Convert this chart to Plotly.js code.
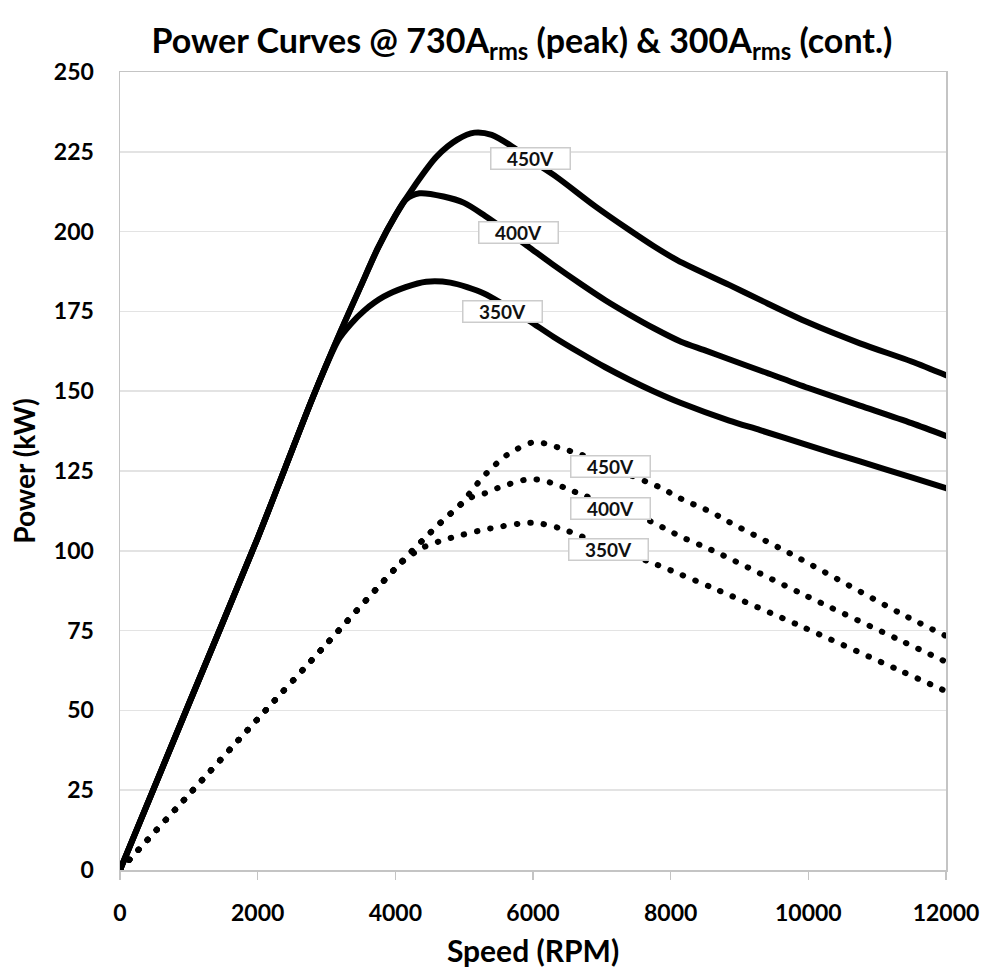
<!DOCTYPE html>
<html>
<head>
<meta charset="utf-8">
<script src="https://cdn.plot.ly/plotly-3.0.1.min.js"></script>
<style>
  html, body { margin: 0; padding: 0; background: #fff; }
  #chart { width: 1000px; height: 975px; }
  .scatterlayer .js-line { stroke-linecap: round; stroke-linejoin: round; }
</style>
</head>
<body>
<div id="chart"></div>
<script>
// ---- Data ----
const peakLabels = ["450V", "400V", "350V"];
const contLabels = ["450V", "400V", "350V"];

// Peak (730 Arms) curves, solid
const peak450Speed = [0, 1000, 2000, 2400, 2800, 3200, 3500, 3750, 4000, 4300, 4600, 4900, 5150, 5400, 5700, 6000, 6350, 6900, 7400, 7750, 8100, 8850, 9300, 10000, 10750, 11500, 12000];
const peak450Power = [0, 52, 104, 126, 148, 168.5, 183, 195, 205, 215, 223.5, 228.8, 231, 230.3, 226.6, 222, 217, 208, 200.5, 195.5, 191, 183.3, 178.6, 171.5, 165, 159.3, 155];

const peak400Speed = [0, 1000, 2000, 2400, 2800, 3200, 3500, 3750, 4000, 4150, 4350, 4700, 5000, 5300, 5600, 5950, 6300, 6700, 7050, 7400, 7750, 8150, 8500, 8850, 9300, 10000, 10750, 11500, 12000];
const peak400Power = [0, 52, 104, 126, 148, 168.5, 183, 195, 205, 210, 212, 211, 209, 205, 200.5, 195, 189.5, 183.5, 178.5, 174, 169.8, 165.5, 162.8, 160, 156.5, 151, 145.5, 140, 136];

const peak350Speed = [0, 1000, 2000, 2400, 2800, 3170, 3350, 3550, 3830, 4150, 4450, 4800, 5280, 5600, 5950, 6300, 6700, 7050, 7400, 7750, 8150, 8850, 9300, 10000, 10750, 11500, 12000];
const peak350Power = [0, 52, 104, 126, 148, 166, 171, 175.3, 179.6, 182.6, 184.3, 184, 180.7, 176.8, 172, 167, 161.8, 157.5, 153.6, 150, 146.3, 140.8, 137.8, 133, 128, 123, 119.6];

// Continuous (300 Arms) curves, dotted
const cont450Speed = [0, 1000, 2000, 3000, 4000, 4650, 4940, 5190, 5330, 5620, 6000, 6200, 6390, 6580, 6780, 7150, 7510, 7700, 7890, 8070, 8250, 8430, 8620, 8790, 9880, 11330, 12000];
const cont450Power = [0, 23.6, 47.3, 70.8, 94.5, 108.7, 114.4, 121, 124.4, 130, 134, 133.5, 132.2, 131, 129.5, 126.3, 122.8, 121.2, 119.4, 117.2, 115.3, 113.7, 111.8, 109.7, 97.5, 80.5, 73.3];

const cont400Speed = [0, 1000, 2000, 3000, 4000, 4500, 5080, 5300, 5490, 5700, 5900, 6080, 6280, 6470, 6650, 7100, 7600, 7960, 8160, 8430, 8690, 9880, 11330, 12000];
const cont400Power = [0, 23.6, 47.3, 70.8, 94.5, 105.5, 116.5, 118, 119.7, 121.2, 122.3, 122.3, 121.2, 119.7, 118.1, 114.4, 110.3, 106.5, 104.3, 101.8, 99.3, 86.8, 72, 65.2];

const cont350Speed = [0, 1000, 2000, 3000, 3800, 4100, 4400, 4800, 5380, 6000, 6400, 6730, 7200, 7700, 8100, 8620, 9880, 11330, 12000];
const cont350Power = [0, 23.6, 47.3, 70.8, 89.8, 96.5, 101, 104, 107, 108.8, 107, 104.3, 100.4, 96.5, 93, 88.3, 76.5, 62.5, 56];

// Axis ticks
const xTicks = [0, 2000, 4000, 6000, 8000, 10000, 12000];
const yTicks = [0, 25, 50, 75, 100, 125, 150, 175, 200, 225, 250];

// ---- Build ----
const FONT = "Lato, 'Open Sans', 'DejaVu Sans', sans-serif";
const solid = { color: "#000", width: 6, shape: "spline", smoothing: 0.8 };
const dotted = { color: "#000", width: 6, shape: "spline", smoothing: 0.8, dash: "0.5px,13px" };

const peakX = [peak450Speed, peak400Speed, peak350Speed];
const peakY = [peak450Power, peak400Power, peak350Power];
const contX = [cont450Speed, cont400Speed, cont350Speed];
const contY = [cont450Power, cont400Power, cont350Power];

const traces = [];
for (let i = 0; i < 3; i++) {
  traces.push({ x: peakX[i], y: peakY[i], type: "scatter", mode: "lines", name: peakLabels[i] + " peak", line: solid, hoverinfo: "skip" });
}
for (let i = 0; i < 3; i++) {
  traces.push({ x: contX[i], y: contY[i], type: "scatter", mode: "lines", name: contLabels[i] + " cont.", line: dotted, hoverinfo: "skip" });
}

// Label positions (data coordinates)
const peakLabelPos = [[5960, 222.8], [5790, 199.7], [5550, 175.1]];
const contLabelPos = [[7130, 126.4], [7125, 113.4], [7100, 100.3]];

const annotations = [];
function addLabel(text, pos) {
  annotations.push({
    x: pos[0], y: pos[1], xref: "x", yref: "y",
    text: text, showarrow: false,
    font: { family: FONT, size: 19, color: "#111", weight: "bold" },
    bgcolor: "#ffffff", bordercolor: "#cccccc", borderwidth: 1.5,
    width: 76, height: 18, borderpad: 1
  });
}
for (let i = 0; i < 3; i++) addLabel(peakLabels[i], peakLabelPos[i]);
for (let i = 0; i < 3; i++) addLabel(contLabels[i], contLabelPos[i]);

const layout = {
  width: 1000, height: 975,
  paper_bgcolor: "#ffffff", plot_bgcolor: "#ffffff",
  margin: { l: 120, r: 54, t: 72, b: 105, pad: 0 },
  showlegend: false,
  font: { family: FONT, color: "#000" },
  title: {
    text: "Power Curves @ 730A<sub>rms</sub> (peak) & 300A<sub>rms</sub> (cont.)",
    font: { family: FONT, size: 34, color: "#000", weight: "bold" },
    x: 0.522, xref: "container", xanchor: "center",
    y: 0.958, yref: "container", yanchor: "middle"
  },
  xaxis: {
    range: [0, 12000], tickvals: xTicks, ticktext: xTicks.map(String),
    showgrid: false, zeroline: false,
    showline: true, mirror: true, linecolor: "#c4c4c4", linewidth: 1.5,
    ticks: "outside", ticklen: 8, tickwidth: 1.5, tickcolor: "#c4c4c4",
    ticklabelstandoff: 14,
    tickfont: { family: FONT, size: 23, color: "#000", weight: "bold" },
    title: { text: "Speed (RPM)", font: { family: FONT, size: 30, color: "#000", weight: "bold" }, standoff: 16 }
  },
  yaxis: {
    range: [0, 250], tickvals: yTicks, ticktext: yTicks.map(String),
    showgrid: true, gridcolor: "#e3e3e3", gridwidth: 1.5,
    zeroline: false,
    showline: true, mirror: true, linecolor: "#c4c4c4", linewidth: 1.5,
    ticks: "", ticklabelstandoff: 20,
    tickfont: { family: FONT, size: 23, color: "#000", weight: "bold" },
    title: { text: "Power (kW)", font: { family: FONT, size: 28, color: "#000", weight: "bold" }, standoff: 10 }
  },
  annotations: annotations
};

Plotly.newPlot("chart", traces, layout, { staticPlot: true, displayModeBar: false });
</script>
</body>
</html>
